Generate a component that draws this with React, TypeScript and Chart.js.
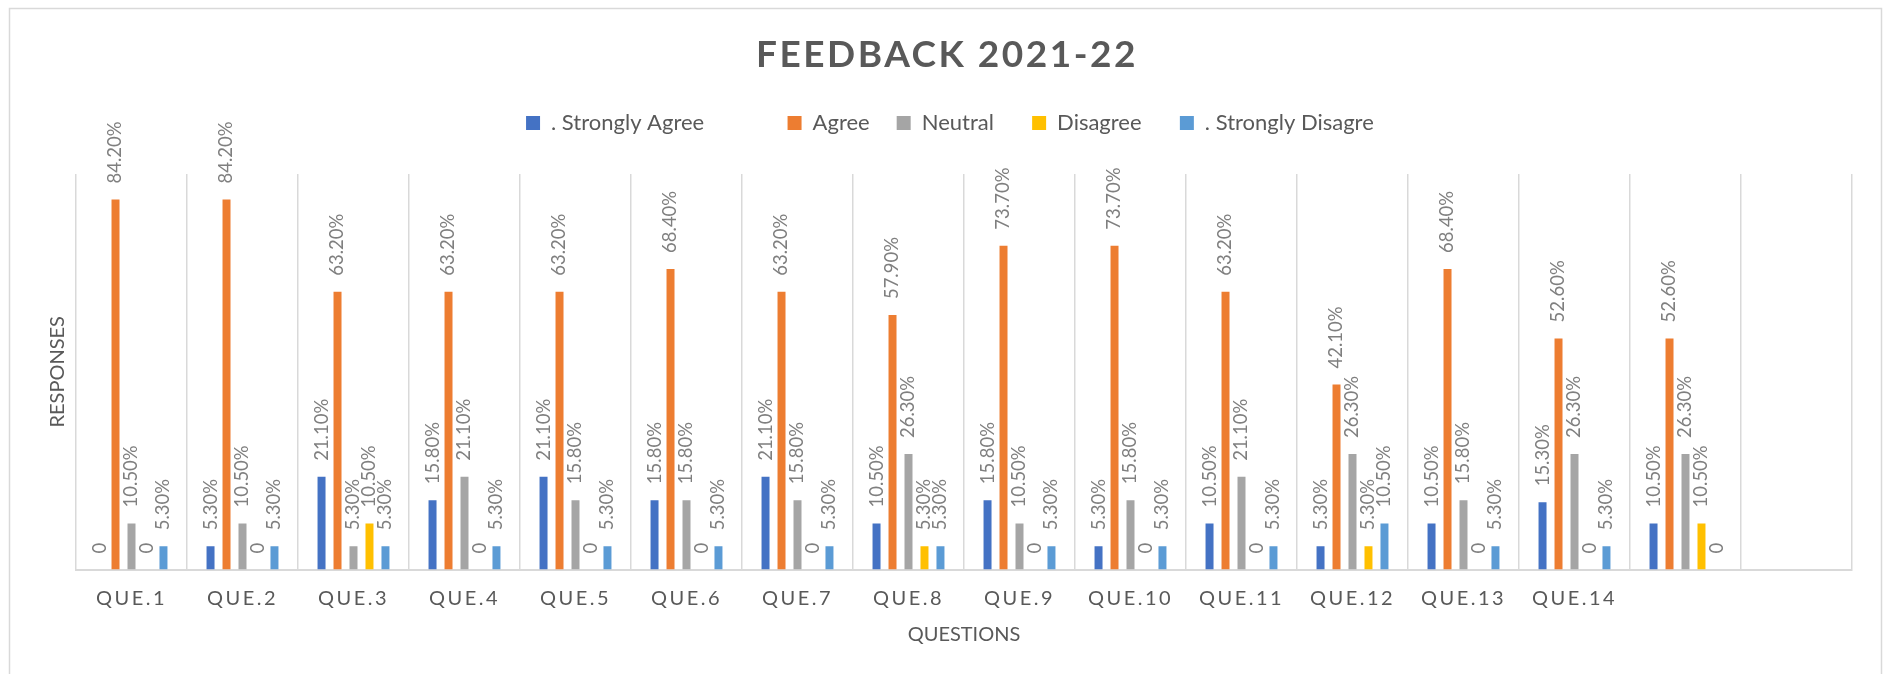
import React, { useEffect, useRef } from 'react';
import { Chart, registerables } from 'chart.js';

Chart.register(...registerables);

// ---------- DATA ----------
const categories = [
  'QUE.1', 'QUE.2', 'QUE.3', 'QUE.4', 'QUE.5', 'QUE.6', 'QUE.7', 'QUE.8',
  'QUE.9', 'QUE.10', 'QUE.11', 'QUE.12', 'QUE.13', 'QUE.14', '', '',
];
const seriesNames = ['. Strongly Agree', 'Agree', 'Neutral', 'Disagree', '. Strongly Disagre'];
const stronglyAgree = [0, 5.3, 21.1, 15.8, 21.1, 15.8, 21.1, 10.5, 15.8, 5.3, 10.5, 5.3, 10.5, 15.3, 10.5, null];
const agree = [84.2, 84.2, 63.2, 63.2, 63.2, 68.4, 63.2, 57.9, 73.7, 73.7, 63.2, 42.1, 68.4, 52.6, 52.6, null];
const neutral = [10.5, 10.5, 5.3, 21.1, 15.8, 15.8, 15.8, 26.3, 10.5, 15.8, 21.1, 26.3, 15.8, 26.3, 26.3, null];
const disagree = [0, 0, 10.5, 0, 0, 0, 0, 5.3, 0, 0, 0, 5.3, 0, 0, 10.5, null];
const stronglyDisagree = [5.3, 5.3, 5.3, 5.3, 5.3, 5.3, 5.3, 5.3, 5.3, 5.3, 5.3, 10.5, 5.3, 5.3, 0, null];
const seriesValues = [stronglyAgree, agree, neutral, disagree, stronglyDisagree];
const seriesColors = ['#4472C4', '#ED7D31', '#A5A5A5', '#FFC000', '#5B9BD5'];
const yMin = 0;
const yMax = 90;

const chartTitle = 'FEEDBACK 2021-22';
const xTitle = 'QUESTIONS';
const yTitle = 'RESPONSES';

// ---------- STYLE ----------
const FONT = 'Lato';
const TEXT_DARK = '#595959';
const LABEL_GRAY = '#7f7f7f';
const GRID = '#d9d9d9';
const TITLE_SPACING = '2.5px';
const TICK_SPACING = '2.5px';
const legendPads = ['          ', '', '  ', '  ', '     '];

const formatLabel = (v: number) => (v === 0 ? '0' : v.toFixed(2) + '%');

function patchSpacing(obj: any, method: string, spacing: string) {
  if (!obj || obj['__patched_' + method]) return;
  const orig = obj[method].bind(obj);
  obj[method] = (...args: any[]) => {
    const c = obj.ctx as CanvasRenderingContext2D;
    c.save();
    (c as any).letterSpacing = spacing;
    orig(...args);
    c.restore();
  };
  obj['__patched_' + method] = true;
}

const spacingPlugin = {
  id: 'spacingPlugin',
  beforeDraw(chart: any) {
    patchSpacing(chart.titleBlock, 'draw', TITLE_SPACING);
    patchSpacing(chart.scales.x, 'drawLabels', TICK_SPACING);
  },
};

const framePlugin = {
  id: 'framePlugin',
  beforeDraw(chart: any) {
    const ctx = chart.ctx as CanvasRenderingContext2D;
    ctx.save();
    ctx.strokeStyle = GRID;
    ctx.lineWidth = 1.5;
    ctx.strokeRect(9.5, 8.5, chart.width - 16, chart.height + 30);
    ctx.restore();
  },
};

const barLabelPlugin = {
  id: 'barLabelPlugin',
  afterDatasetsDraw(chart: any) {
    const ctx = chart.ctx as CanvasRenderingContext2D;
    ctx.save();
    ctx.font = `18.5px ${FONT}`;
    ctx.fillStyle = LABEL_GRAY;
    ctx.textAlign = 'left';
    ctx.textBaseline = 'middle';
    chart.data.datasets.forEach((ds: any, di: number) => {
      const meta = chart.getDatasetMeta(di);
      meta.data.forEach((el: any, i: number) => {
        const v = ds.data[i];
        if (v === null || v === undefined || !isFinite(el.y)) return;
        ctx.save();
        ctx.translate(el.x, el.y - 16);
        ctx.rotate(-Math.PI / 2);
        ctx.fillText(formatLabel(v), 0, 0);
        ctx.restore();
      });
    });
    ctx.restore();
  },
};

export default function App() {
  const canvasRef = useRef<HTMLCanvasElement | null>(null);

  useEffect(() => {
    let chart: Chart | null = null;
    let cancelled = false;
    const fontsReady = Promise.all([
      document.fonts.load(`20px ${FONT}`),
      document.fonts.load(`bold 37px ${FONT}`),
    ]).catch(() => null);
    fontsReady.then(() => {
      if (cancelled || !canvasRef.current) return;
      chart = new Chart(canvasRef.current, {
        type: 'bar',
        data: {
          labels: categories,
          datasets: seriesNames.map((name, i) => ({
            label: name,
            data: seriesValues[i],
            backgroundColor: seriesColors[i],
            borderWidth: 0,
            barPercentage: 0.5,
            categoryPercentage: 0.72,
          })),
        },
        options: {
          responsive: false,
          animation: false,
          events: [],
          layout: { padding: { top: 0, left: 42, right: 36, bottom: 23 } },
          scales: {
            x: {
              offset: true,
              grid: { display: true, offset: true, color: GRID, lineWidth: 1.5, drawTicks: false },
              border: { display: true, color: GRID, width: 2 },
              ticks: {
                font: { family: FONT, size: 20 },
                color: TEXT_DARK,
                padding: 16.7,
                maxRotation: 0,
                autoSkip: false,
              },
              title: {
                display: true,
                text: xTitle,
                font: { family: FONT, size: 20 },
                color: TEXT_DARK,
                padding: { top: -4, bottom: 4 },
              },
            },
            y: {
              min: yMin,
              max: yMax,
              ticks: { display: false },
              grid: { display: false, drawTicks: false },
              border: { display: false },
              title: {
                display: true,
                text: yTitle,
                font: { family: FONT, size: 20 },
                color: TEXT_DARK,
                padding: { top: 4, bottom: 6 },
              },
            },
          },
          plugins: {
            tooltip: { enabled: false },
            title: {
              display: true,
              text: chartTitle,
              color: TEXT_DARK,
              font: { family: FONT, size: 37, weight: 'bold' },
              padding: { top: 33, bottom: 7.6 },
            },
            subtitle: {
              display: true,
              text: '',
              weight: 500,
              font: { size: 10, lineHeight: 1 },
              padding: { top: 10, bottom: 10 },
            } as any,
            legend: {
              position: 'top',
              fullSize: false,
              labels: {
                boxWidth: 14,
                boxHeight: 14,
                padding: 27,
                color: TEXT_DARK,
                font: { family: FONT, size: 22 },
                generateLabels: (c: any) => {
                  const items = Chart.defaults.plugins.legend.labels.generateLabels(c);
                  return items.map((it: any, i: number) => ({ ...it, text: it.text + legendPads[i] }));
                },
              },
            },
          },
        },
        plugins: [framePlugin, spacingPlugin, barLabelPlugin],
      });
    });
    return () => {
      cancelled = true;
      if (chart) chart.destroy();
    };
  }, []);

  return (
    <div
      style={{
        position: 'fixed',
        left: 0,
        top: 0,
        width: 1888,
        height: 674,
        background: '#ffffff',
      }}
    >
      <canvas ref={canvasRef} width={1888} height={674} style={{ display: 'block' }} />
    </div>
  );
}
